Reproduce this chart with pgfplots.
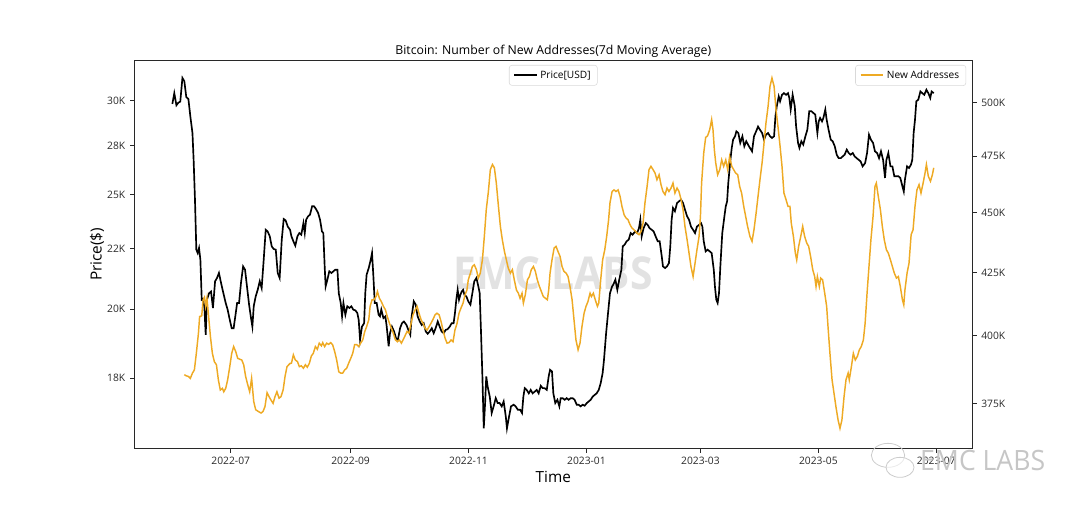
\documentclass[border=0pt]{standalone}
\usepackage{fontspec}
\setmainfont{Open Sans}
\usepackage{pgfplots}
\pgfplotsset{compat=1.18}
\definecolor{addr}{RGB}{238,170,36}
\definecolor{wm}{RGB}{226,226,226}
\definecolor{tk}{RGB}{40,40,40}
\begin{document}
\begin{tikzpicture}[x=1pt,y=1pt]
\path[use as bounding box] (0,0) rectangle (810,378);
\node[font=\bfseries\fontsize{34}{34}\selectfont, text=wm, xscale=0.9] at (414.75,173) {EMC LABS};
\pgfplotsset{
  common/.style={
    at={(100.9pt,41.8pt)}, anchor=south west,
    scale only axis, width=628.1pt, height=290.9pt,
    xmin=-49.77, xmax=383.5,
    yminorticks=false, xminorticks=false,
    tick align=outside, major tick length=3.4pt,
    every tick/.style={tk, line width=0.6pt},
    tick label style={font=\fontsize{7.7}{9}\selectfont, text=tk},
    legend style={draw=gray!30, rounded corners=2pt, font=\fontsize{7.6}{9}\selectfont, inner xsep=3pt, inner ysep=2pt, fill=white},
    legend cell align=left,
  }
}
\begin{axis}[common,
  axis line style={tk, line width=0.75pt},
  ymode=log, ymin=15265, ymax=32460,
  xtick={0,62,123,184,243,304,365},
  xticklabels={2022-07,2022-09,2022-11,2023-01,2023-03,2023-05,2023-07},
  ytick={17500,20000,22500,25000,27500,30000},
  yticklabels={18K,20K,22K,25K,28K,30K},
  xtick pos=left, ytick pos=left,
  title={Bitcoin: Number of New Addresses(7d Moving Average)},
  title style={font=\fontsize{9.2}{10}\selectfont, at={(axis description cs:0.5,1.004)}, anchor=center},
  xlabel={Time}, ylabel={Price(\$)},
  xlabel style={font=\fontsize{11.5}{13}\selectfont, at={(axis description cs:0.5,-0.074)}, anchor=center},
  ylabel style={font=\fontsize{11.5}{13}\selectfont, at={(axis description cs:-0.0448,0.5)}, anchor=center, rotate=0},
  legend style={at={(0.5,0.988)}, anchor=north},
]
\addplot[black, line width=1.25pt] coordinates {
(-30.2,29820) (-29.2,30451) (-28.1,29743) (-27.1,29896) (-26.1,29954) (-25.0,31369) (-24.0,31165) (-23.0,30221) (-21.9,30107) (-20.9,29112) (-19.8,28180) (-19.2,26746) (-18.5,24750) (-17.8,22459) (-17.1,22312) (-16.4,22533) (-15.7,22017) (-15.0,20375) (-14.3,20401) (-13.6,20051) (-12.95,19034) (-12.3,20375) (-11.2,20634) (-10.2,20703) (-9.2,20051) (-8.1,21118) (-7.1,21256) (-6.1,21464) (-5.0,21049) (-3.8,20634) (-2.6,20245) (-1.6,19986) (-0.5,19597) (0.5,19277) (1.5,19277) (2.6,19856) (3.3,20245) (4.3,20245) (5.3,21049) (6.4,21740) (7.4,21602) (8.4,20911) (9.5,20180) (10.5,19662) (11.2,19338) (11.9,20116) (12.9,20504) (13.95,20772) (15.0,21118) (16.0,20841) (17.05,22017) (18.1,23344) (19.1,23270) (20.2,23049) (21.2,22607) (22.2,22489) (23.3,22459) (24.3,21464) (25.3,21256) (26.4,22901) (27.4,23838) (28.4,23775) (29.5,23491) (30.7,23344)
(31.4,23049) (32.4,22828) (33.4,22636) (34.5,23049) (35.5,23196) (36.5,23122) (37.6,23648) (38.3,23196) (39.0,23806) (40.0,23963) (41.0,24042) (42.1,24435) (43.1,24435) (44.1,24309) (45.2,24121) (46.2,23806) (47.2,23270) (47.9,23196) (48.6,21740) (49.1,20911) (50.0,21187) (51.0,21533) (52.1,21464) (53.1,21533) (54.1,21602) (55.2,21602) (55.9,20634) (56.9,20245) (57.6,19727) (58.3,20245) (59.3,19792) (60.3,20116) (61.4,20051) (62.4,20116) (63.4,19986) (64.5,19960) (65.5,19856) (66.2,19597) (66.9,18852) (67.9,19338) (69.0,19468) (69.6,20634) (70.3,21395) (71.4,21671) (72.4,22017) (73.1,22312) (73.8,21326) (74.5,20245) (75.5,20245) (76.5,19792) (77.2,19727) (77.9,19986) (79.0,19662) (80.0,19727) (80.7,19338) (81.7,18609) (82.4,19095) (83.4,19338) (84.5,19156) (85.5,18913) (86.5,18852) (87.6,19277) (88.6,19468) (89.6,19532)
(90.9,19403) (91.9,19216) (92.9,19034) (93.6,19727) (94.7,20310) (95.7,20180) (96.7,19727) (97.8,19532) (98.8,19403) (99.8,19468) (100.9,19156) (101.9,19071) (102.9,19156) (104.0,19277) (105.0,19095) (106.0,19277) (107.1,19532) (108.1,19338) (109.1,19156) (110.2,19095) (111.2,19216) (112.2,19241) (113.3,19338) (114.3,19468) (115.3,19468) (116.0,19856) (116.7,20375) (117.4,20772) (118.1,20375) (118.8,20569) (119.5,20703) (120.2,20772) (120.9,20569) (121.9,20504) (122.9,20310) (124.0,20180) (125.0,20634) (126.0,21118) (127.1,21256) (128.1,20911) (128.8,20634) (129.5,19095) (130.2,17554) (130.9,15865) (131.6,16665) (132.2,17554) (132.9,17213) (134.0,16878) (135.0,16345) (136.0,16558) (137.1,16825) (138.1,16665) (139.1,16665) (140.2,16558) (141.2,16718) (142.3,16238) (142.9,15865) (144.0,16238) (145.0,16558) (146.4,16612) (147.4,16558) (148.5,16452) (149.7,16452)
(150.7,16345) (151.4,16878) (152.1,17156) (153.1,17099) (154.2,16985) (155.2,17099) (156.2,16985) (157.3,17042) (158.3,17099) (159.3,16985) (160.4,17235) (161.4,17156) (162.4,17156) (163.5,17099) (164.5,17554) (165.2,17781) (166.2,17725) (166.9,16985) (167.9,16665) (169.0,16772) (170.0,16558) (170.7,16825) (171.7,16825) (172.8,16772) (173.8,16825) (174.8,16772) (175.9,16825) (176.9,16825) (177.9,16772) (179.0,16612) (180.0,16612) (181.0,16558) (182.1,16612) (183.1,16580) (184.2,16665) (185.2,16718) (186.2,16772) (187.3,16878) (188.3,16932) (189.3,16985) (190.4,17099) (191.4,17326) (192.4,17668) (193.1,18123) (194.2,19095) (195.2,19856) (196.2,20634) (197.3,20911) (197.9,20980) (199.0,21187) (200.0,20772) (201.0,21187) (202.1,21602) (202.8,22607) (203.8,22680) (204.8,22828) (205.9,22901) (206.9,23196) (207.9,23122) (209.2,23270)
(210.2,23196) (211.2,23417) (211.9,23806) (212.6,23049) (213.6,23417) (214.7,23648) (215.7,23569) (216.7,23417) (217.8,23344) (218.8,23270) (219.8,23049) (220.9,22828) (221.9,22828) (223.0,22164) (223.6,21740) (224.7,21671) (225.7,21740) (226.7,21879) (227.4,22607) (228.1,23806) (228.8,24357) (229.8,24199) (230.9,24592) (231.9,24671) (233.0,24750) (234.0,24592) (235.0,24278) (236.1,23963) (237.1,23806) (238.1,23491) (239.2,23344) (240.2,23196) (241.2,23491) (242.3,23569) (243.3,23648) (244.0,23491) (244.7,22828) (245.7,22385) (246.7,22459) (247.8,22385) (248.8,22312) (249.9,21602) (250.5,20911) (251.2,20375) (251.9,20245) (252.6,20634) (253.3,21740) (254.3,23196) (255.4,23963) (256.1,24435) (256.8,24671) (257.4,25571) (258.5,26746) (259.2,27377) (259.9,27821) (260.9,28000) (261.6,28269) (262.6,28179) (263.6,27642) (264.7,28000) (265.7,27462) (266.7,27731) (268.1,27462)
(269.7,27194) (270.7,28000) (271.8,28269) (272.8,28538) (273.8,28359) (274.9,28180) (275.9,27821) (276.9,28090) (278.0,28180) (279.0,28000) (280.0,27911) (281.1,28000) (281.8,29112) (282.5,29686) (283.5,30260) (284.2,29973) (285.2,30355) (286.2,30451) (287.3,30355) (288.3,30451) (289.0,30164) (289.7,29495) (290.7,30355) (291.8,29686) (292.5,28538) (293.5,27642) (294.2,27377) (295.2,27731) (296.2,27552) (297.3,28000) (298.3,28359) (299.3,29399) (300.4,29399) (301.4,29303) (302.4,29208) (303.5,28180) (304.2,28825) (304.9,29017) (305.9,28825) (306.6,29017) (307.6,29495) (308.3,28921) (309.3,28359) (310.4,27821) (311.4,27731) (312.5,27462) (313.5,27015) (314.5,26836) (315.6,26836) (316.6,26925) (317.6,27015) (318.7,27283) (319.7,27104) (320.7,27015) (321.8,27104) (322.8,26925) (323.8,26836) (324.9,26746) (325.9,26662) (326.9,26410) (328.2,26578)
(329.2,27104) (330.2,28090) (331.2,27821) (332.3,27642) (333.3,27194) (334.4,27104) (335.4,26836) (336.4,27194) (337.5,26746) (338.5,25822) (339.2,26746) (340.2,27104) (341.3,26410) (342.3,26410) (343.3,25906) (344.4,25906) (345.4,25906) (346.4,25822) (347.5,25401) (348.2,25149) (348.8,25738) (349.9,26410) (350.9,26326) (351.9,26494) (352.6,26746) (353.3,28180) (354.0,28921) (354.7,29973) (355.7,30069) (356.8,30553) (357.8,30451) (358.8,30355) (359.9,30655) (360.9,30451) (361.9,30164) (362.6,30553) (363.7,30451)
};
\addlegendentry{Price[USD]}
\end{axis}
\begin{axis}[common,
  axis line style={draw=none},
  xtick=\empty, ytick pos=right,
  ymode=log, ymin=359.2, ymax=520.6,
  ytick={375,400,425,450,475,500},
  yticklabels={375K,400K,425K,450K,475K,500K},
  legend style={at={(0.993,0.988)}, anchor=north east},
  legend image post style={draw=addr, line width=1.5pt},
]
\addplot[color=addr, line width=1.1pt] coordinates {
(-24.0,385.4) (-23.0,385.0) (-21.9,384.8) (-20.9,384.1) (-19.8,386.0) (-18.8,387.2) (-17.8,393.4) (-16.7,401.0) (-16.1,407.4) (-15.0,407.7) (-14.3,414.0) (-13.6,415.0) (-12.95,411.4) (-12.3,414.6) (-11.6,408.7) (-10.5,399.7) (-9.5,393.4) (-8.5,390.3) (-7.4,389.1) (-6.4,383.5) (-5.4,379.8) (-4.3,380.4) (-3.6,379.2) (-2.6,380.4) (-1.6,383.5) (-0.5,388.4) (0.5,393.4) (1.5,395.9) (2.6,394.0) (3.6,391.5) (4.6,391.2) (5.7,390.9) (6.7,389.1) (7.7,384.8) (8.8,381.7) (9.8,379.2) (10.8,384.1) (11.9,375.6) (12.9,372.7) (14.3,372.1) (15.7,371.5) (16.7,372.1) (17.7,373.8) (18.8,378.8) (19.8,377.4) (20.8,376.2) (21.9,375.0) (22.9,377.4) (23.9,379.2) (25.0,376.8) (26.0,377.4) (27.1,379.8) (28.1,384.8) (29.1,388.4) (30.7,389.6)
(31.4,389.7) (32.4,392.8) (33.4,390.9) (34.5,390.3) (35.5,388.4) (36.5,388.7) (37.6,387.8) (38.6,389.1) (39.6,388.2) (40.7,389.7) (41.7,392.4) (42.7,393.4) (43.8,395.9) (44.8,394.9) (45.8,397.2) (46.9,396.2) (47.6,397.4) (48.6,395.9) (49.6,397.2) (50.7,396.8) (51.7,397.4) (52.7,396.6) (53.8,394.0) (54.8,390.9) (55.9,386.5) (56.9,386.0) (57.9,386.0) (59.0,387.2) (60.0,387.8) (61.0,389.7) (62.1,391.5) (63.1,393.4) (64.1,396.6) (65.2,396.6) (66.2,395.9) (67.2,397.2) (68.3,398.5) (69.3,401.5) (70.3,403.5) (71.4,406.1) (72.1,411.4) (73.1,414.0) (74.1,414.0) (75.2,415.3) (75.9,417.3) (76.9,414.6) (77.9,413.3) (79.0,411.4) (80.0,410.1) (81.0,407.4) (82.1,404.8) (83.1,402.9) (84.1,401.0) (85.2,398.5) (86.2,397.8) (87.2,398.5) (88.3,397.2) (89.6,399.1)
(91.2,401.6) (92.2,401.0) (93.3,404.8) (94.3,408.1) (95.3,409.8) (96.4,411.4) (97.4,408.7) (98.5,406.1) (99.5,404.8) (100.5,402.9) (101.6,402.2) (102.6,403.5) (103.6,404.8) (104.7,406.4) (105.7,408.1) (106.7,408.7) (107.8,408.1) (108.8,405.5) (109.8,402.2) (110.9,399.1) (111.9,397.2) (112.9,397.4) (114.0,398.5) (115.0,397.8) (116.0,402.2) (117.1,404.8) (118.1,408.7) (119.1,410.7) (120.2,412.7) (121.2,416.0) (122.2,417.9) (122.9,422.0) (124.0,424.7) (125.0,427.4) (126.0,428.1) (127.1,426.1) (128.1,422.7) (129.1,424.7) (130.2,430.1) (131.2,439.9) (132.2,451.3) (133.3,459.2) (134.3,468.9) (135.4,471.2) (136.4,469.7) (137.4,462.9) (138.5,452.7) (139.5,444.1) (140.5,438.5) (141.6,433.6) (142.6,430.1) (143.6,426.7) (144.7,424.7) (145.7,426.1) (146.7,422.0) (147.8,417.9) (148.8,416.6) (149.7,414.6)
(150.7,416.6) (151.4,412.7) (152.4,416.0) (153.5,422.0) (154.5,423.3) (155.5,426.1) (156.6,427.4) (157.6,425.4) (158.6,422.0) (159.7,419.3) (160.7,417.3) (161.7,415.3) (162.8,414.6) (163.8,414.0) (164.5,417.9) (165.2,424.7) (166.2,430.1) (167.3,435.0) (168.3,435.7) (169.3,433.6) (170.4,431.5) (171.4,427.4) (172.4,425.4) (173.5,424.7) (174.5,423.3) (175.5,419.3) (176.6,414.0) (177.6,406.1) (178.6,398.5) (179.7,394.7) (180.7,397.2) (181.7,403.5) (182.8,408.7) (183.8,411.4) (184.8,413.3) (185.9,416.6) (186.6,415.3) (187.6,416.6) (188.6,414.0) (189.7,411.4) (190.4,412.7) (191.4,422.0) (192.4,430.1) (193.5,434.3) (194.5,439.9) (195.5,447.0) (196.2,454.2) (197.3,459.2) (198.3,459.9) (199.3,459.2) (200.4,459.9) (201.4,457.1) (202.4,452.7) (203.5,449.1) (204.5,447.7) (205.5,447.0) (206.6,444.8) (207.6,443.4) (208.6,442.7)
(210.2,441.3) (211.2,440.6) (212.3,442.0) (213.3,445.5) (214.3,454.2) (215.4,461.4) (216.4,468.9) (217.4,470.4) (218.5,468.9) (219.5,467.4) (220.5,464.4) (221.6,466.6) (222.6,462.2) (223.6,459.2) (224.7,457.8) (225.7,460.7) (226.7,459.2) (227.8,460.7) (228.8,462.9) (229.8,458.5) (230.9,460.7) (231.9,459.2) (233.0,455.6) (234.0,451.3) (235.0,444.1) (236.1,438.5) (237.1,432.9) (238.1,427.4) (239.2,423.3) (240.2,428.7) (241.2,434.3) (242.3,439.9) (243.0,448.4) (243.6,462.9) (244.7,476.4) (245.7,483.6) (246.7,484.3) (247.8,487.2) (248.8,491.9) (249.5,487.2) (250.2,477.9) (250.9,472.0) (251.9,466.6) (253.0,468.9) (254.0,473.3) (255.0,470.4) (256.1,473.3) (257.1,468.9) (258.1,474.8) (259.2,470.4) (260.2,468.9) (261.2,467.4) (262.3,466.6) (263.3,461.4) (264.3,458.5) (265.4,452.7) (266.4,448.4) (267.4,444.1) (268.6,439.9)
(269.7,437.8) (270.7,442.7) (271.8,449.8) (272.8,457.1) (273.8,464.4) (274.9,472.0) (275.9,481.0) (276.9,490.3) (278.0,498.2) (279.0,507.8) (280.0,511.9) (281.1,507.8) (282.1,496.6) (283.1,488.7) (284.2,479.5) (285.2,470.4) (286.2,458.5) (287.3,455.6) (288.3,452.7) (289.3,452.7) (290.0,445.5) (291.1,439.9) (292.1,432.9) (292.8,430.1) (293.8,435.7) (294.9,439.9) (295.9,444.1) (296.9,439.9) (298.0,437.1) (299.0,435.7) (300.0,431.5) (301.1,426.1) (302.1,423.3) (302.8,419.3) (303.5,423.3) (304.5,419.3) (305.2,422.7) (306.2,422.0) (307.3,416.6) (308.3,411.4) (309.0,403.5) (310.0,393.4) (311.1,383.5) (312.1,378.6) (313.1,373.8) (314.2,369.1) (315.2,366.1) (316.2,369.1) (317.3,377.4) (318.3,383.5) (319.4,386.0) (320.0,383.5) (321.1,388.4) (322.1,393.4) (323.1,390.9) (324.2,392.2) (325.2,394.7) (326.2,395.9) (327.3,398.5) (328.2,404.8)
(329.2,416.6) (330.2,427.4) (331.2,438.5) (332.3,448.4) (333.3,461.4) (334.0,462.9) (335.0,457.1) (336.1,451.3) (337.1,444.1) (338.1,438.5) (339.2,434.3) (340.2,432.9) (341.3,430.1) (342.3,427.4) (343.3,424.7) (344.4,422.7) (345.4,423.3) (346.4,419.3) (347.5,414.0) (348.2,412.0) (348.8,417.9) (349.9,424.7) (350.9,428.7) (352.0,440.6) (353.0,442.7) (354.0,452.7) (355.0,459.9) (356.1,462.2) (357.1,458.5) (358.2,462.9) (359.2,467.4) (359.9,471.2) (360.9,465.9) (362.0,463.7) (363.0,466.6) (363.7,469.7)
};
\addlegendentry{New Addresses}
\end{axis}
\node[font=\fontsize{21}{21}\selectfont, text=gray!45, xscale=0.95] at (737,33) {EMC LABS};
\draw[gray!40, line width=0.6pt] (666,36.5) ellipse (12.5 and 9);
\draw[gray!40, line width=0.6pt, fill=white, fill opacity=0.6] (675,27.5) ellipse (10.5 and 7.5);
\end{tikzpicture}
\end{document}
